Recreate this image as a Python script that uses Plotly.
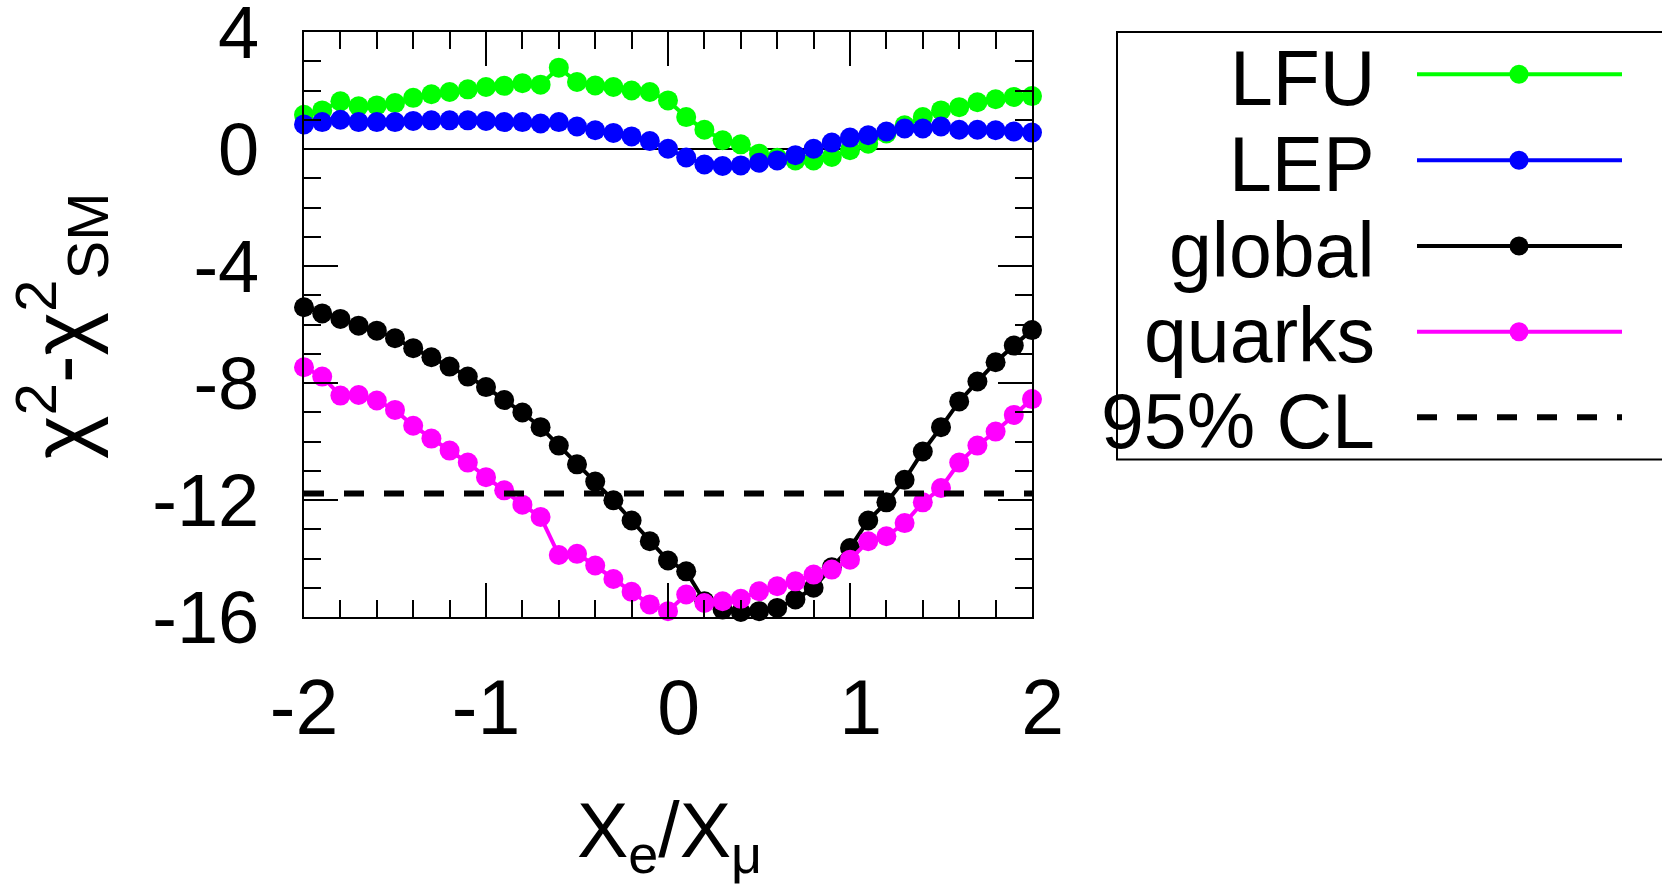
import plotly.graph_objects as go

# ---------------- data ----------------
x_vals = [-2.0, -1.9, -1.8, -1.7, -1.6, -1.5, -1.4, -1.3, -1.2, -1.1,
          -1.0, -0.9, -0.8, -0.7, -0.6, -0.5, -0.4, -0.3, -0.2, -0.1,
          0.0, 0.1, 0.2, 0.3, 0.4, 0.5, 0.6, 0.7, 0.8, 0.9,
          1.0, 1.1, 1.2, 1.3, 1.4, 1.5, 1.6, 1.7, 1.8, 1.9, 2.0]

lfu = [1.17, 1.32, 1.63, 1.46, 1.49, 1.57, 1.75, 1.87, 1.95, 2.04,
       2.12, 2.16, 2.25, 2.20, 2.78, 2.29, 2.17, 2.12, 2.00, 1.95,
       1.66, 1.09, 0.66, 0.30, 0.16, -0.16, -0.30, -0.39, -0.39, -0.27,
       -0.04, 0.18, 0.53, 0.81, 1.09, 1.32, 1.43, 1.60, 1.70, 1.78, 1.81]

lep = [0.84, 0.92, 1.00, 0.92, 0.92, 0.92, 0.96, 0.98, 0.98, 0.98,
       0.96, 0.92, 0.92, 0.87, 0.92, 0.77, 0.64, 0.55, 0.43, 0.27,
       0.01, -0.29, -0.53, -0.58, -0.56, -0.47, -0.39, -0.21, 0.01, 0.22,
       0.39, 0.47, 0.60, 0.70, 0.70, 0.77, 0.66, 0.66, 0.64, 0.60, 0.56]

global_fit = [-5.41, -5.62, -5.81, -6.04, -6.21, -6.47, -6.81, -7.12, -7.44, -7.78,
              -8.14, -8.58, -9.01, -9.51, -10.14, -10.78, -11.37, -12.01, -12.70, -13.41,
              -14.07, -14.44, -15.46, -15.74, -15.83, -15.80, -15.69, -15.40, -15.00, -14.30,
              -13.64, -12.70, -12.08, -11.31, -10.34, -9.51, -8.63, -7.95, -7.29, -6.72, -6.19]

quarks = [-7.46, -7.78, -8.43, -8.41, -8.60, -8.92, -9.46, -9.90, -10.31, -10.72,
          -11.22, -11.67, -12.16, -12.58, -13.88, -13.84, -14.24, -14.70, -15.14, -15.57,
          -15.80, -15.23, -15.52, -15.46, -15.38, -15.12, -14.95, -14.78, -14.55, -14.38,
          -14.04, -13.41, -13.24, -12.79, -12.08, -11.59, -10.72, -10.14, -9.66, -9.09, -8.55]

cl95 = -11.78

x_tick_vals = [-2, -1, 0, 1, 2]
x_tick_text = ["-2", "-1", "\u00a00", "\u00a01", "\u00a02"]
y_tick_vals = [4, 0, -4, -8, -12, -16]
y_tick_text = ["4", "0", "-4", "-8", "-12", "-16"]

series_names = ["LFU", "LEP", "global", "quarks"]
series_data = [lfu, lep, global_fit, quarks]
series_colors = ["#00ff00", "#0000ff", "#000000", "#ff00ff"]

# ---------------- figure ----------------
W, H = 1662, 893
FONT = "Liberation Sans, Arial, sans-serif"
px_l, px_r, px_t, px_b = 304, 1032, 32, 617

fig = go.Figure()

for name, ys, col in zip(series_names, series_data, series_colors):
    fig.add_trace(go.Scatter(
        x=x_vals, y=ys, mode="lines+markers", name=name,
        line=dict(color=col, width=4),
        marker=dict(color=col, size=20, opacity=1),
        cliponaxis=False, showlegend=False))

fig.add_trace(go.Scatter(
    x=[x_vals[0], x_vals[-1]], y=[cl95, cl95], mode="lines", name="95% CL",
    line=dict(color="black", width=6, dash="20px,20px"),
    showlegend=False))

# ---------------- legend (drawn on a pixel-space overlay axis) ----------------
leg_line_y = [74.3, 160.3, 246.0, 331.7, 417.3]
leg_x0, leg_xm, leg_x1 = 1417, 1519, 1622
for i, (name, col) in enumerate(zip(series_names, series_colors)):
    fig.add_trace(go.Scatter(
        x=[leg_x0, leg_x1], y=[leg_line_y[i]] * 2,
        xaxis="x2", yaxis="y2", mode="lines",
        line=dict(color=col, width=4),
        showlegend=False, cliponaxis=False, hoverinfo="skip"))
    fig.add_trace(go.Scatter(
        x=[leg_xm], y=[leg_line_y[i]],
        xaxis="x2", yaxis="y2", mode="markers",
        marker=dict(color=col, size=19, opacity=1),
        showlegend=False, cliponaxis=False, hoverinfo="skip"))
fig.add_trace(go.Scatter(
    x=[leg_x0, leg_x1], y=[leg_line_y[4]] * 2,
    xaxis="x2", yaxis="y2", mode="lines",
    line=dict(color="black", width=6, dash="20px,20px"),
    showlegend=False, cliponaxis=False, hoverinfo="skip"))

annotations = []
for i, name in enumerate(series_names + ["95% CL"]):
    annotations.append(dict(
        x=1377 / W, y=1 - (leg_line_y[i] + 3.7) / H, xref="paper", yref="paper",
        text=name, showarrow=False, xanchor="right", yanchor="middle",
        font=dict(family=FONT, size=77, color="black")))

# axis titles
annotations.append(dict(
    x=669 / W, y=1 - 835 / H, xref="paper", yref="paper",
    text="X<sub>e</sub>/X<sub>\u03bc</sub>", showarrow=False,
    xanchor="center", yanchor="middle",
    font=dict(family=FONT, size=77, color="black")))
annotations.append(dict(
    x=61 / W, y=1 - 326 / H, xref="paper", yref="paper",
    text="\u03c7<sup>2</sup>-\u03c7<sup>2</sup><sub>SM</sub>", showarrow=False,
    textangle=-90, xanchor="center", yanchor="middle",
    font=dict(family=FONT, size=83, color="black")))

shapes = [dict(type="rect", xref="paper", yref="paper",
               x0=1117 / W, x1=1675 / W, y0=1 - 459.5 / H, y1=1 - 32 / H,
               line=dict(color="black", width=2), fillcolor="rgba(0,0,0,0)")]

axis_common = dict(showline=True, linecolor="black", linewidth=2,
                   mirror="allticks", ticks="inside", tickcolor="black",
                   tickwidth=2, ticklen=34, showgrid=False, automargin=False,
                   ticklabeloverflow="allow")

fig.update_layout(
    width=W, height=H,
    margin=dict(l=0, r=0, t=0, b=0),
    paper_bgcolor="white", plot_bgcolor="rgba(0,0,0,0)",
    showlegend=False,
    xaxis=dict(domain=[px_l / W, px_r / W], range=[-2, 2],
               tickmode="array", tickvals=x_tick_vals, ticktext=x_tick_text,
               tickfont=dict(family=FONT, size=77, color="black"),
               ticklabelstandoff=23, zeroline=False,
               minor=dict(tickmode="linear", tick0=0, dtick=0.2, ticks="inside",
                          ticklen=17, tickwidth=2, tickcolor="black", showgrid=False),
               **axis_common),
    yaxis=dict(domain=[1 - px_b / H, 1 - px_t / H], range=[-16, 4],
               tickmode="array", tickvals=y_tick_vals, ticktext=y_tick_text,
               tickfont=dict(family=FONT, size=74, color="black"),
               ticklabelstandoff=28,
               zeroline=True, zerolinecolor="black", zerolinewidth=2,
               minor=dict(tickmode="linear", tick0=0, dtick=1, ticks="inside",
                          ticklen=17, tickwidth=2, tickcolor="black", showgrid=False),
               **axis_common),
    xaxis2=dict(domain=[0, 1], range=[0, W], visible=False, anchor="y2",
                fixedrange=True),
    yaxis2=dict(domain=[0, 1], range=[H, 0], visible=False, anchor="x2",
                fixedrange=True),
    annotations=annotations,
    shapes=shapes,
)

fig.write_html("out.html")
